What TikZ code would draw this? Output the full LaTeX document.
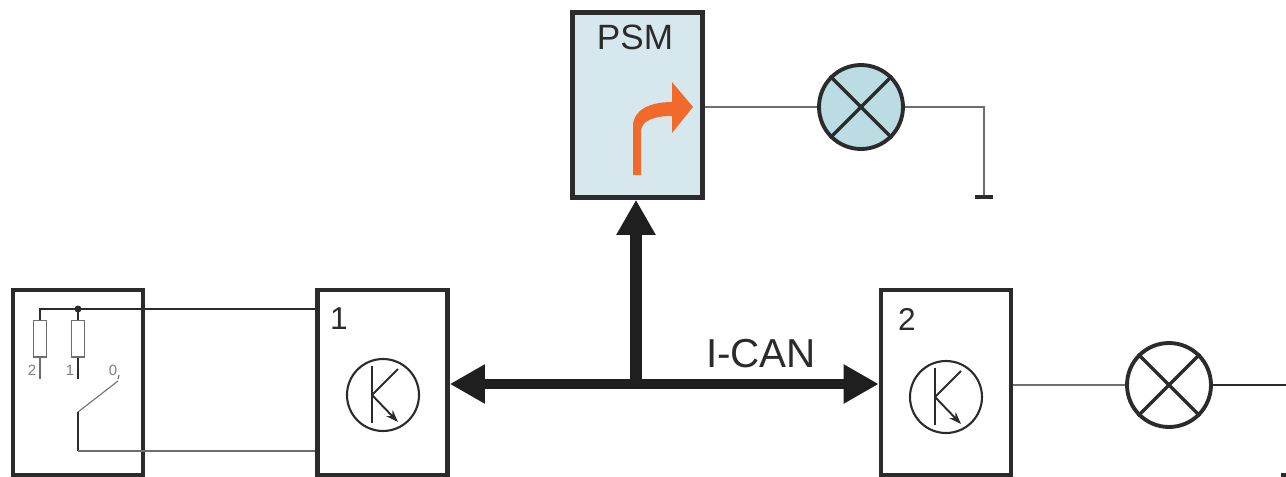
\documentclass[tikz,border=0pt]{standalone}
\usepackage{fontspec}
\setmainfont{Liberation Sans}
\usetikzlibrary{arrows.meta}
\definecolor{BoxInk}{HTML}{2B2B2B}
\definecolor{WireGray}{HTML}{6E6E6E}
\definecolor{PsmBlue}{HTML}{D6E8EE}
\definecolor{LampBlue}{HTML}{BADCE2}
\definecolor{TurnOrange}{HTML}{F1692B}
\tikzset{
  unitbox/.style={draw=BoxInk,line width=2.6pt,minimum width=2.6cm,minimum height=3.7cm,inner sep=0pt},
  lamp/.style={circle,draw=BoxInk,line width=2.2pt,minimum size=1.68cm,inner sep=0pt},
  transcircle/.style={circle,draw=BoxInk,line width=1.2pt,minimum size=1.44cm,inner sep=0pt},
  wire/.style={draw=WireGray,line width=0.62pt},
  bus/.style={draw=black!88,line width=6.2pt,{Triangle[length=20pt,width=21pt]}-{Triangle[length=20pt,width=21pt]}},
  stem/.style={draw=black!88,line width=6.8pt,-{Triangle[length=20pt,width=21pt]}},
  resistor/.style={draw=WireGray,line width=0.57pt,minimum width=0.28cm,minimum height=0.74cm,inner sep=0pt},
  boxlabel/.style={text=BoxInk,inner sep=0pt},
  contact/.style={text=gray,inner sep=0pt,font=\fontsize{8.5pt}{9pt}\selectfont}
}
\begin{document}
\begin{tikzpicture}[x=0.02cm,y=-0.02cm]
  \useasboundingbox (0,0) rectangle (1286,477);
  % boxes
  \node[unitbox] (switchbox) at (78,382.5) {};
  \node[unitbox] (boxa) at (382.5,382.5) {};
  \node[unitbox] (boxb) at (946,382.5) {};
  \node[unitbox,fill=PsmBlue] (psm) at (637.5,105) {};
  \node[boxlabel,font=\fontsize{20pt}{22pt}\selectfont] (psmlabel) at (635,37) {PSM};
  \node[boxlabel,font=\fontsize{18pt}{20pt}\selectfont] (labela) at (339,319) {1};
  \node[boxlabel,font=\fontsize{18pt}{20pt}\selectfont] (labelb) at (907,319) {2};
  \node[boxlabel,font=\fontsize{23pt}{25pt}\selectfont] (canlabel) at (761,354) {I-CAN};
  % bus
  \coordinate (junction) at (636,384);
  \draw[bus] (boxa.east |- junction) -- (boxb.west |- junction);
  \draw[stem] (junction) -- (junction |- psm.south);
  % turn arrow
  \fill[TurnOrange] (633,175) -- (633,126) .. controls (633,110) and (650,102) .. (672,102)
    -- (672,82) -- (693,107) -- (672,133) -- (672,116)
    .. controls (655,116) and (641,120) .. (641,132) -- (641,175) -- cycle;
  % lamps
  \node[lamp,fill=LampBlue] (lampa) at (861,107) {};
  \node[lamp] (lampb) at (1169,385) {};
  \foreach \lampname in {lampa,lampb} {
    \draw[BoxInk,line width=2pt] (\lampname.45) -- (\lampname.225);
    \draw[BoxInk,line width=2pt] (\lampname.135) -- (\lampname.315);
  }
  \coordinate (groundtop) at (984,107);
  \coordinate (ground) at (984,197);
  \coordinate (rightend) at (1286,385);
  \draw[wire] (psm.east |- lampa) -- (lampa.west);
  \draw[wire] (lampa.east) -- (groundtop) -- (ground);
  \draw[BoxInk,line width=2.6pt] (975,197) -- (993,197);
  \draw[wire] (boxb.east |- lampb) -- (lampb.west);
  \draw[BoxInk,line width=0.74pt] (lampb.east) -- (rightend);
  \draw[BoxInk,line width=2.6pt] (1281,475) -- (1286,475);
  % transistors
  \node[transcircle] (transa) at (383,395) {};
  \node[transcircle] (transb) at (946,397) {};
  \foreach \transname in {transa,transb} {
    \draw[BoxInk,line width=1.1pt] ([shift={(-11,-29)}]\transname.center) -- ([shift={(-11,28)}]\transname.center);
    \draw[BoxInk,line width=1.1pt] ([shift={(-11,0)}]\transname.center) -- ([shift={(15,-26)}]\transname.center);
    \draw[BoxInk,line width=1.1pt,-{Stealth[length=7pt,width=5pt]}] ([shift={(-11,0)}]\transname.center) -- ([shift={(15,27)}]\transname.center);
  }
  % switch
  \coordinate (wiretop) at (40,309);
  \coordinate (branch) at (78,309);
  \coordinate (pivot) at (78,412);
  \coordinate (pivotend) at (78,451);
  \coordinate (contactend) at (118,381);
  \node[resistor] (resb) at (40,338.5) {};
  \node[resistor] (resa) at (78,338.5) {};
  \draw[BoxInk,line width=0.68pt] (resb.north) -- (wiretop) -- (wiretop -| boxa.west);
  \fill[BoxInk] (branch) circle (3.5);
  \draw[BoxInk,line width=0.68pt] (branch) -- (resa.north);
  \draw[wire] (resb.south) -- ++(0,21);
  \draw[BoxInk,line width=0.68pt] (resa.south) -- ++(0,21);
  \draw[wire] (contactend) -- (pivot);
  \draw[BoxInk,line width=0.68pt] (pivot) -- (pivotend);
  \draw[wire] (pivotend) -- (pivotend -| boxa.west);
  \draw[wire] (119,375) -- (118,379);
  \node[contact] (contactb) at (32,370) {2};
  \node[contact] (contacta) at (70,370) {1};
  \node[contact] (contactz) at (113,370) {0};
\end{tikzpicture}
\end{document}
